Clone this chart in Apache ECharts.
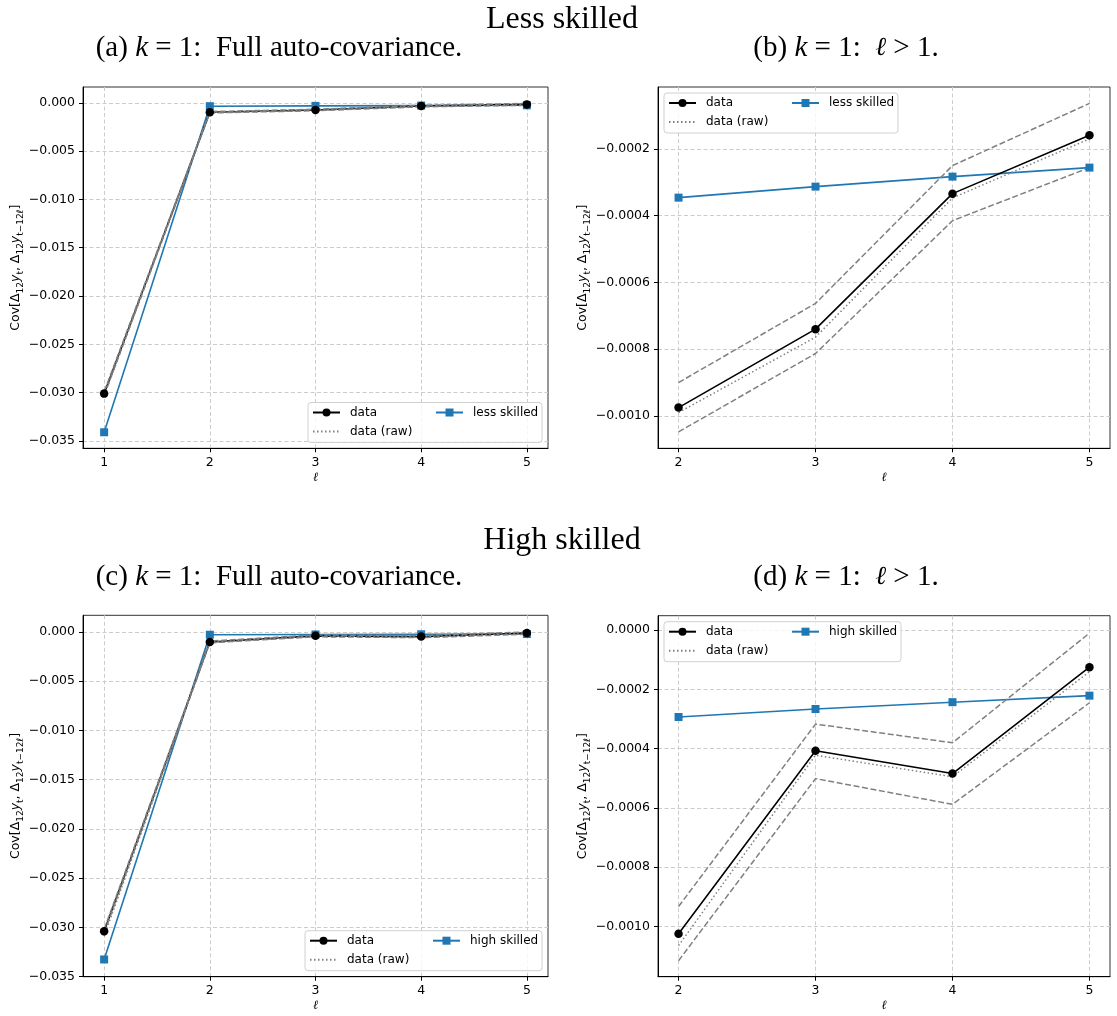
<!DOCTYPE html>
<html><head><meta charset="utf-8">
<script src="https://cdn.jsdelivr.net/npm/echarts@6/dist/echarts.min.js"></script>
<style>html,body{margin:0;padding:0;background:#fff}#c{width:1117px;height:1016px}</style>
</head><body><div id="c"></div>
<script>
// ---- data ----
const lags = [1, 2, 3, 4, 5];

const lessData  = [-0.0301, -0.000975, -0.00074, -0.000334, -0.000159];
const lessRaw   = [-0.0303, -0.00099, -0.000764, -0.000347, -0.00017];
const lessUpper = [-0.0299, -0.0009, -0.000663, -0.00025, -0.0000637];
const lessLower = [-0.0303, -0.001048, -0.000813, -0.000415, -0.000256];
const lessModel = [-0.0341, -0.000346, -0.000313, -0.000283, -0.000256];

const highData  = [-0.0304, -0.001025, -0.000407, -0.000484, -0.000125];
const highRaw   = [-0.0309, -0.001065, -0.000422, -0.000495, -0.00014];
const highUpper = [-0.0302, -0.000933, -0.000317, -0.00038, -0.00001];
const highLower = [-0.0306, -0.001116, -0.000501, -0.000588, -0.000245];
const highModel = [-0.03327, -0.000293, -0.000266, -0.000243, -0.000221];

const xTicksFull = [1, 2, 3, 4, 5];
const xTicksZoom = [2, 3, 4, 5];
const yTicksFull = [0, -0.005, -0.010, -0.015, -0.020, -0.025, -0.030, -0.035];
const yTicksLessZoom = [-0.0002, -0.0004, -0.0006, -0.0008, -0.0010];
const yTicksHighZoom = [0, -0.0002, -0.0004, -0.0006, -0.0008, -0.0010];

// ---- helpers ----
const SANS = 'DejaVu Sans';
const SERIF = 'Liberation Serif';
const BLUE = '#1f77b4';
const GRAY = '#808080';

function pts(xs, ys) { return xs.map((x, i) => [x, ys[i]]); }
function fmt(dec) {
  return v => (v < -1e-12 ? '\u2212' : '') + Math.abs(v).toFixed(dec);
}

const grids = [
  {left: 83, top: 87, width: 465, height: 361.3},
  {left: 658, top: 87, width: 452, height: 361.3},
  {left: 83, top: 615.3, width: 465, height: 361.4},
  {left: 658, top: 615.7, width: 452, height: 361}
];
grids.forEach(g => { g.show = true; g.borderColor = '#333'; g.borderWidth = 1; g.backgroundColor = 'transparent'; });

const yName = '{n|Cov[\u0394}{s|12}{i|y}{s|t}{n|, \u0394}{s|12}{i|y}{s|t\u221212\u2113}{n|]}';
const yRich = {
  n: {fontFamily: SANS, fontSize: 12.5, lineHeight: 18, color: '#000'},
  i: {fontFamily: SANS, fontSize: 12.5, fontStyle: 'italic', lineHeight: 18, color: '#000'},
  s: {fontFamily: SANS, fontSize: 9, lineHeight: 10, verticalAlign: 'bottom', color: '#000'}
};

function xAxis(gi, min, max, ticks) {
  return {
    type: 'value', gridIndex: gi, min: min, max: max,
    axisLine: {show: true, onZero: false, lineStyle: {color: '#000', width: 1}},
    axisTick: {show: true, customValues: ticks, length: 4, lineStyle: {color: '#000'}},
    axisLabel: {customValues: ticks, margin: 8, fontFamily: SANS, fontSize: 12.5, color: '#000',
                formatter: v => String(v)},
    splitLine: {show: true, lineStyle: {color: '#cccccc', width: 1, type: [4, 2.5]}},
    name: '\u2113', nameLocation: 'middle', nameGap: 23,
    nameTextStyle: {fontFamily: 'DejaVu Serif', fontStyle: 'italic', fontSize: 12.5, color: '#000'}
  };
}
function yAxis(gi, min, max, ticks, dec, gap) {
  return {
    type: 'value', gridIndex: gi, min: min, max: max,
    axisLine: {show: true, onZero: false, lineStyle: {color: '#000', width: 1}},
    axisTick: {show: true, customValues: ticks, length: 4, lineStyle: {color: '#000'}},
    axisLabel: {customValues: ticks, margin: 8, fontFamily: SANS, fontSize: 12.5, color: '#000',
                formatter: fmt(dec)},
    splitLine: {show: true, lineStyle: {color: '#cccccc', width: 1, type: [4, 2.5]}},
    name: yName, nameLocation: 'middle', nameGap: gap, nameRotate: 90,
    nameTextStyle: {rich: yRich}
  };
}

function panelSeries(gi, xs, data, raw, up, lo, model, modelName) {
  const base = {type: 'line', xAxisIndex: gi, yAxisIndex: gi, animation: false, silent: true};
  return [
    Object.assign({}, base, {name: modelName, data: pts(xs, model), symbol: 'rect', symbolSize: 8,
      itemStyle: {color: BLUE}, lineStyle: {color: BLUE, width: 1.6}}),
    Object.assign({}, base, {name: 'data', data: pts(xs, data), symbol: 'circle', symbolSize: 8.5,
      itemStyle: {color: '#000'}, lineStyle: {color: '#000', width: 1.6}}),
    Object.assign({}, base, {name: 'data (raw)', data: pts(xs, raw), symbol: 'none', showSymbol: false,
      itemStyle: {color: GRAY}, lineStyle: {color: GRAY, width: 1.5, type: [1.5, 2.5]}}),
    Object.assign({}, base, {name: 'ci-up', data: pts(xs, up), symbol: 'none', showSymbol: false,
      itemStyle: {color: GRAY}, lineStyle: {color: GRAY, width: 1.5, type: [6, 2.6]}}),
    Object.assign({}, base, {name: 'ci-lo', data: pts(xs, lo), symbol: 'none', showSymbol: false,
      itemStyle: {color: GRAY}, lineStyle: {color: GRAY, width: 1.5, type: [6, 2.6]}})
  ];
}

const xsZ = lags.slice(1);
const sl = a => a.slice(1);

const series = [].concat(
  panelSeries(0, lags, lessData, lessRaw, lessUpper, lessLower, lessModel, 'less skilled'),
  panelSeries(1, xsZ, sl(lessData), sl(lessRaw), sl(lessUpper), sl(lessLower), sl(lessModel), 'less skilled'),
  panelSeries(2, lags, highData, highRaw, highUpper, highLower, highModel, 'high skilled'),
  panelSeries(3, xsZ, sl(highData), sl(highRaw), sl(highUpper), sl(highLower), sl(highModel), 'high skilled')
);

// legends: frame left/top per panel
const legFrames = [
  {x: 308, y: 402.5, w: 234, name: 'less skilled'},
  {x: 664, y: 93, w: 234, name: 'less skilled'},
  {x: 305, y: 930.7, w: 237, name: 'high skilled'},
  {x: 664, y: 621.7, w: 237, name: 'high skilled'}
];
const legends = [];
const graphics = [];
const legText = {fontFamily: SANS, fontSize: 12, color: '#000', lineHeight: 14, padding: [0, 0, 0, 5]};
legFrames.forEach(f => {
  legends.push({orient: 'vertical', left: f.x + 4, top: f.y + 3, padding: 0, itemGap: 5,
    itemWidth: 27, itemHeight: 10, selectedMode: false, textStyle: legText,
    data: ['data', {name: 'data (raw)', itemStyle: {opacity: 0}}]});
  legends.push({orient: 'vertical', left: f.x + 127, top: f.y + 3, padding: 0, itemGap: 5,
    itemWidth: 27, itemHeight: 10, data: [f.name], selectedMode: false, textStyle: legText});
  graphics.push({type: 'rect', z: 3, shape: {x: f.x, y: f.y, width: f.w, height: 40, r: 3},
    style: {fill: 'rgba(255,255,255,0.8)', stroke: '#d0d0d0', lineWidth: 1}});
});

function title(x, y, text, size) {
  return {type: 'text', z: 10, x: x, y: y, style: {
    text: text, align: 'center', verticalAlign: 'middle',
    font: size + 'px "' + SERIF + '"', fill: '#000',
    rich: {
      r: {fontFamily: SERIF, fontSize: size, fill: '#000'},
      i: {fontFamily: SERIF, fontStyle: 'italic', fontSize: size, fill: '#000'},
      l: {fontFamily: 'DejaVu Serif', fontStyle: 'italic', fontSize: size - 3, fill: '#000'}
    }}};
}
graphics.push(title(562, 20, '{r|Less skilled}', 32));
graphics.push(title(279, 48, '{r|(a) }{i|k}{r| = 1:  Full auto-covariance.}', 29));
graphics.push(title(846, 48, '{r|(b) }{i|k}{r| = 1:  }{l|\u2113}{r| > 1.}', 29));
graphics.push(title(562, 541, '{r|High skilled}', 32));
graphics.push(title(279, 577, '{r|(c) }{i|k}{r| = 1:  Full auto-covariance.}', 29));
graphics.push(title(846, 577, '{r|(d) }{i|k}{r| = 1:  }{l|\u2113}{r| > 1.}', 29));

const option = {
  backgroundColor: '#fff',
  animation: false,
  grid: grids,
  xAxis: [
    xAxis(0, 0.8, 5.2, xTicksFull),
    xAxis(1, 1.85, 5.15, xTicksZoom),
    xAxis(2, 0.8, 5.2, xTicksFull),
    xAxis(3, 1.85, 5.15, xTicksZoom)
  ],
  yAxis: [
    yAxis(0, -0.03576, 0.00164, yTicksFull, 3, 56),
    yAxis(1, -0.001097, -0.0000145, yTicksLessZoom, 4, 64),
    yAxis(2, -0.03502, 0.00168, yTicksFull, 3, 56),
    yAxis(3, -0.00117, 0.000049, yTicksHighZoom, 4, 64)
  ],
  legend: legends,
  graphic: graphics,
  series: series
};
const chart = echarts.init(document.getElementById('c'));
chart.setOption(option);
</script>
</body></html>
